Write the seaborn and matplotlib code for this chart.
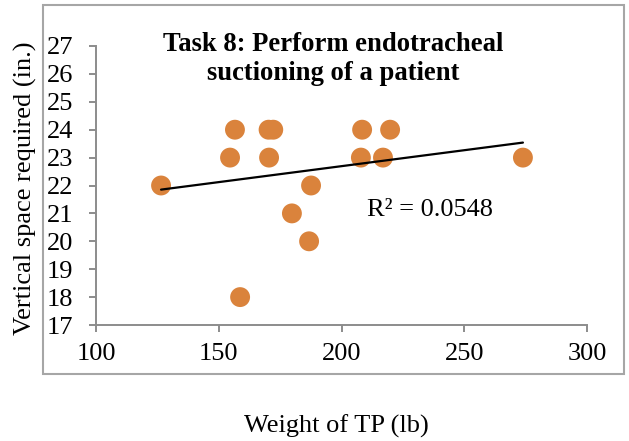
import matplotlib
matplotlib.use("Agg")
import matplotlib.pyplot as plt
import matplotlib.patches as mpatches
import numpy as np
import pandas as pd
import seaborn as sns

# Weight of test participant (lb) and vertical space required (in.)
weight_lb = [126.5, 154.6, 156.6, 158.7, 170.3, 172.2, 170.5, 179.8,
             186.8, 187.6, 207.9, 208.4, 216.9, 219.8, 273.9]
vertical_in = [22, 23, 24, 18, 24, 24, 23, 21,
               20, 22, 23, 24, 23, 24, 23]
x_ticks = [100, 150, 200, 250, 300]
y_ticks = [17, 18, 19, 20, 21, 22, 23, 24, 25, 26, 27]
title_text = "Task 8: Perform endotracheal\nsuctioning of a patient"
r2_label = "R² = 0.0548"

df = pd.DataFrame({"weight": weight_lb, "vspace": vertical_in})

sns.set_style("white")
plt.rcParams["font.family"] = ["Liberation Serif", "DejaVu Serif"]
plt.rcParams["text.color"] = "black"

W, H = 629, 441
fig = plt.figure(figsize=(W / 100, H / 100), dpi=100)
ax = fig.add_axes([96 / W, 1 - 325 / H, (587 - 96) / W, (325 - 46) / H])

orange = "#DA833C"
axis_grey = "#8C8C8C"

sns.scatterplot(data=df, x="weight", y="vspace", ax=ax, s=205,
                color=orange, edgecolor="none", linewidth=0, zorder=3)
sns.regplot(data=df, x="weight", y="vspace", ax=ax, scatter=False, ci=None,
            truncate=True, line_kws={"color": "black", "linewidth": 1.6,
                                     "zorder": 4})

ax.set_xlim(100, 300)
ax.set_ylim(17, 27)
ax.set_xticks(x_ticks)
ax.set_yticks(y_ticks)
ax.set_xticklabels([str(v) for v in x_ticks])
ax.set_yticklabels([str(v) for v in y_ticks])

for side in ["top", "right"]:
    ax.spines[side].set_visible(False)
for side in ["left", "bottom"]:
    ax.spines[side].set_color(axis_grey)
    ax.spines[side].set_linewidth(1.4)

ax.tick_params(axis="both", which="major", direction="out", length=5.2,
               width=1.4, color=axis_grey, labelsize=19, labelcolor="black",
               bottom=True, left=True)
ax.tick_params(axis="y", pad=11)
ax.tick_params(axis="x", pad=8)
ax.grid(False)

ax.set_xlabel("")
ax.set_ylabel("")

# Axis titles sit outside the chart frame
fig.text(336 / W, 1 - 433 / H, "Weight of TP (lb)", fontsize=19,
         color="black", ha="center", va="baseline")
fig.text(25 / W, 1 - 188 / H, "Vertical space required (in.)", fontsize=19,
         color="black", rotation=90, ha="center", va="center")

# Chart title
fig.text(333.5 / W, 1 - 80 / H, title_text, fontsize=19.2, fontweight="bold",
         color="black", ha="center", va="baseline", linespacing=1.22)

# Trendline R² label
ax.text(210.4, 20.9, r2_label, fontsize=19, color="black",
        ha="left", va="baseline")

# Chart area border
frame = mpatches.Rectangle((43 / W, 1 - 374 / H), (624 - 43) / W,
                           (374 - 5) / H, transform=fig.transFigure,
                           fill=False, edgecolor="#A6A6A6", linewidth=1.5,
                           zorder=0)
fig.patches.append(frame)

fig.savefig("out.png", dpi=100, facecolor="white")
